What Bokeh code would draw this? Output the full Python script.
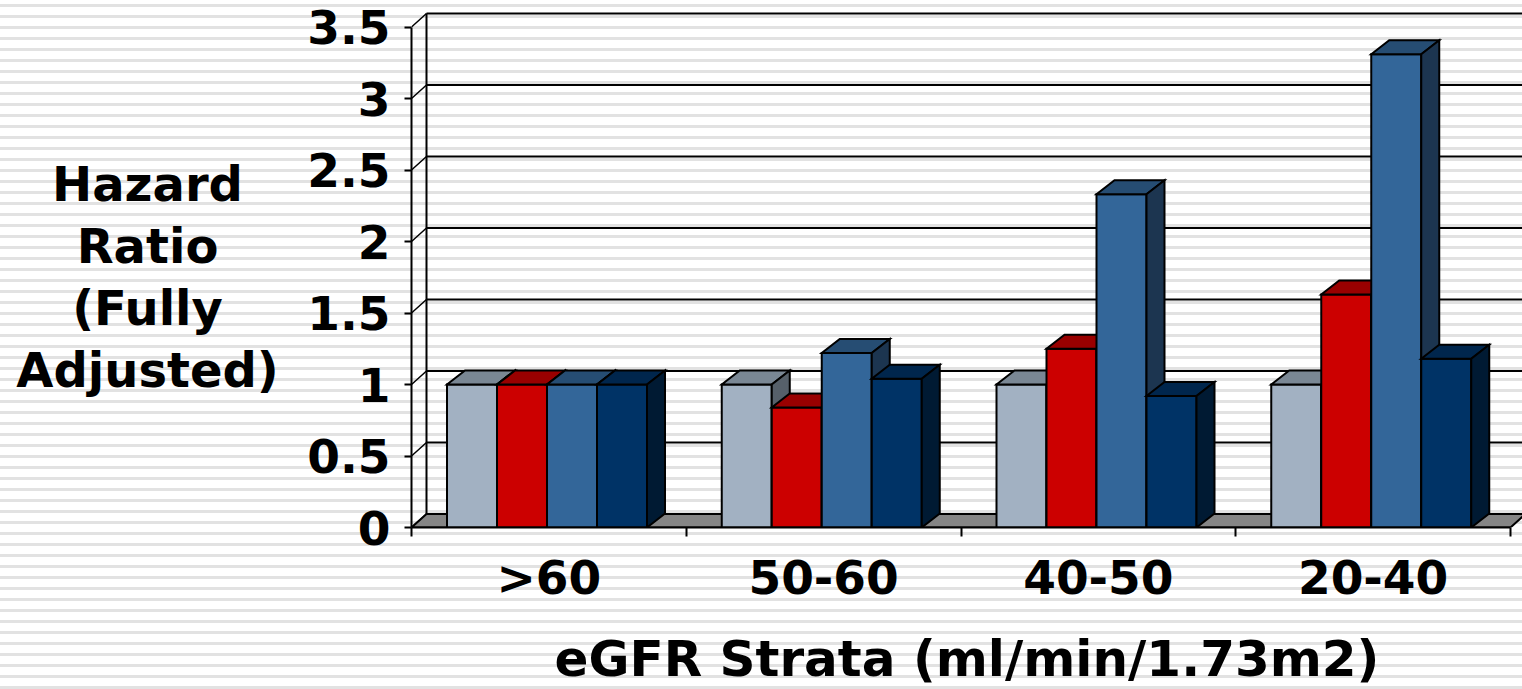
from bokeh.plotting import figure
from bokeh.layouts import row
from bokeh.models import ColumnDataSource, FixedTicker, Range1d
from bokeh.core.properties import value
from bokeh.embed import file_html
from bokeh.resources import INLINE

# ---- data -------------------------------------------------------------
categories = [">60", "50-60", "40-50", "20-40"]
hr_gray = [1.00, 1.00, 1.00, 1.00]
hr_red = [1.00, 0.84, 1.25, 1.63]
hr_blue = [1.00, 1.22, 2.33, 3.31]
hr_navy = [1.00, 1.04, 0.92, 1.18]
y_ticks = [0, 0.5, 1, 1.5, 2, 2.5, 3, 3.5]
y_tick_labels = ["0", "0.5", "1", "1.5", "2", "2.5", "3", "3.5"]
x_title = "eGFR Strata (ml/min/1.73m2)"
y_title_lines = ["Hazard", "Ratio", "(Fully", "Adjusted)"]

series = [hr_gray, hr_red, hr_blue, hr_navy]
# front / top / side shades for each series
face_colors = [
    ("#A2B1C2", "#7A8794", "#56606A"),
    ("#CC0000", "#990000", "#6B0000"),
    ("#336699", "#264D73", "#1C3550"),
    ("#003366", "#00264D", "#001A33"),
]

# ---- geometry ---------------------------------------------------------
W, H = 1522, 689
TITLE_W = 290          # column holding the y title
LEFT, BOTTOM = 411, 162
PX_X = 274.75          # pixels per category
PX_Y = 143.0           # pixels per hazard-ratio unit
FRAME_W = W - LEFT
FRAME_H = H - BOTTOM
X_END = FRAME_W / PX_X
Y_END = FRAME_H / PX_Y

BAR_W = 50 / PX_X
BAR_START = 35.5 / PX_X
BAR_DX, BAR_DY = 18 / PX_X, 14 / PX_Y      # bar depth
WALL_DX, WALL_DY = 15 / PX_X, 13.5 / PX_Y  # wall/floor depth
N = len(categories)
Y_MAX = y_ticks[-1]

FONT = "DejaVu Sans"
STRIPES = {
    "background-image": "repeating-linear-gradient(to bottom, #ffffff 0px, #ffffff 4px, "
                        "#e2e2e2 4px, #e2e2e2 6.6px, #ffffff 6.6px, #ffffff 11px)"
}

# ---- y title column (pixel coordinates, y measured upward) -------------
t = figure(frame_width=TITLE_W, frame_height=H, output_backend="svg",
           toolbar_location=None,
           x_range=Range1d(0, TITLE_W), y_range=Range1d(0, H),
           x_axis_location=None, y_axis_location=None,
           min_border_left=0, min_border_right=0,
           min_border_top=0, min_border_bottom=0)
t.title.visible = False
t.outline_line_color = None
t.background_fill_color = None
t.border_fill_color = None
t.grid.visible = False
t.styles = STRIPES
first_base, line_gap = 183, 62.0
t.text(x=[147] * len(y_title_lines),
       y=[H - (first_base + i * line_gap) for i in range(len(y_title_lines))],
       text=y_title_lines, text_align="center", text_baseline="alphabetic",
       text_font=value(FONT), text_font_style="bold",
       text_font_size=value("48px"), text_color="black")

# ---- chart -------------------------------------------------------------
p = figure(frame_width=FRAME_W, frame_height=FRAME_H, output_backend="svg",
           toolbar_location=None,
           x_range=Range1d(0, X_END), y_range=Range1d(0, Y_END),
           min_border_left=LEFT - TITLE_W, min_border_right=0, min_border_top=0,
           min_border_bottom=BOTTOM)
p.title.visible = False
p.outline_line_color = None
p.background_fill_color = None
p.border_fill_color = None
p.grid.visible = False
p.styles = STRIPES

# back wall: gridlines, side-wall diagonals, back axis
p.segment(x0=[WALL_DX] * len(y_ticks), y0=[v + WALL_DY for v in y_ticks],
          x1=[X_END + 0.2] * len(y_ticks), y1=[v + WALL_DY for v in y_ticks],
          line_color="black", line_width=2)
p.segment(x0=[0] * len(y_ticks), y0=y_ticks,
          x1=[WALL_DX] * len(y_ticks), y1=[v + WALL_DY for v in y_ticks],
          line_color="black", line_width=1.5)
p.segment(x0=[WALL_DX], y0=[WALL_DY], x1=[WALL_DX], y1=[Y_MAX + WALL_DY],
          line_color="black", line_width=2)

# floor
p.patch(x=[0, N, N + WALL_DX, WALL_DX], y=[0, 0, WALL_DY, WALL_DY],
        fill_color="#858585", line_color="black", line_width=2)

# 3D bars, painted left to right so nearer faces cover hidden ones
xs, ys, fills = [], [], []
for g in range(N):
    for s, vals in enumerate(series):
        v = vals[g]
        x0 = g + BAR_START + s * BAR_W
        x1 = x0 + BAR_W
        front, top, side = face_colors[s]
        xs.append([x0, x1, x1, x0]); ys.append([0, 0, v, v]); fills.append(front)
        xs.append([x0, x1, x1 + BAR_DX, x0 + BAR_DX]); ys.append([v, v, v + BAR_DY, v + BAR_DY]); fills.append(top)
        xs.append([x1, x1 + BAR_DX, x1 + BAR_DX, x1]); ys.append([0, BAR_DY, v + BAR_DY, v]); fills.append(side)

src = ColumnDataSource(dict(xs=xs, ys=ys, fill=fills))
p.patches("xs", "ys", source=src, fill_color="fill", line_color="black",
          line_width=2, line_join="miter")

# axes
ya = p.yaxis[0]
ya.ticker = FixedTicker(ticks=y_ticks, minor_ticks=[])
ya.major_label_overrides = {float(v): lab for v, lab in zip(y_ticks, y_tick_labels)}
ya.bounds = (0, Y_MAX)
ya.axis_line_width = 2
ya.major_tick_out = 7
ya.major_tick_in = 0
ya.major_tick_line_width = 2
ya.minor_tick_line_color = None
ya.major_label_standoff = 14
ya.major_label_text_font = FONT
ya.major_label_text_font_style = "bold"
ya.major_label_text_font_size = "47px"
ya.major_label_text_color = "black"

centers = [g + 0.5 for g in range(N)]
xa = p.xaxis[0]
xa.ticker = FixedTicker(ticks=centers, minor_ticks=list(range(N + 1)))
xa.major_label_overrides = {float(c): lab for c, lab in zip(centers, categories)}
xa.bounds = (0, N)
xa.axis_line_width = 2
xa.major_tick_out = 0
xa.major_tick_in = 0
xa.minor_tick_out = 9
xa.minor_tick_in = 0
xa.minor_tick_line_width = 2
xa.minor_tick_line_color = "black"
xa.major_label_standoff = 13
xa.major_label_text_font = FONT
xa.major_label_text_font_style = "bold"
xa.major_label_text_font_size = "47px"
xa.major_label_text_color = "black"
xa.axis_label = x_title
xa.axis_label_standoff = 22
xa.axis_label_text_font = FONT
xa.axis_label_text_font_style = "bold"
xa.axis_label_text_font_size = "50px"
xa.axis_label_text_color = "black"

layout = row(t, p, spacing=0)
open("out.html", "w").write(file_html(layout, INLINE))
